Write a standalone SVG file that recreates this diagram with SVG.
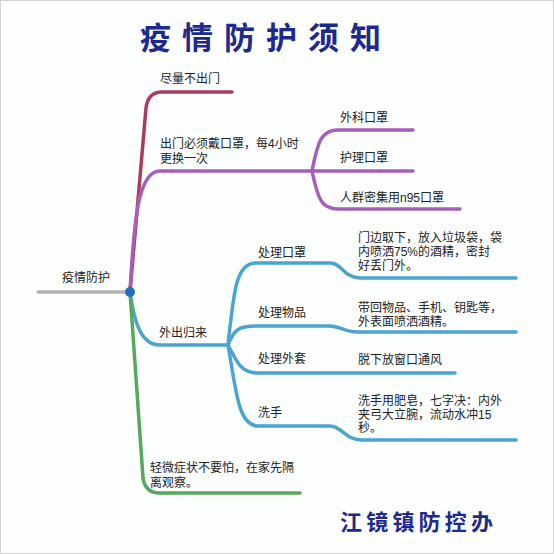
<svg xmlns="http://www.w3.org/2000/svg" width="554" height="554" viewBox="0 0 554 554">
<style>
.t{font-family:"Liberation Sans","Noto Sans CJK SC",sans-serif;font-size:12px;fill:#222;}
.h{font-family:"Liberation Sans","Noto Sans CJK SC",sans-serif;font-weight:bold;fill:#1d2a8c;}
.ln{fill:none;stroke-width:3.5;stroke-linecap:round;stroke-linejoin:round;}
.mr{stroke:#a83d63;}
.pu{stroke:#a65fb8;}
.bl{stroke:#4ba3cf;}
.gr{stroke:#55a85c;}
</style>
<rect x="0.5" y="0.5" width="553" height="553" fill="#fdfefe" stroke="#d4d4d4"/>
<text class="h" x="140" y="49" font-size="31" letter-spacing="11">疫情防护须知</text>
<g id="connectors">
<path class="ln" d="M38,292 L130,292" stroke="#b3b3b3"/>
<path class="ln mr" d="M130,292 L146,108 Q148,92 162,92 L232,92"/>
<path class="ln pu" d="M130,292 C134,220 138,171 160,171 L413,171"/>
<path class="ln pu" d="M312,171 C318,140 322,130 338,130 L413,130"/>
<path class="ln pu" d="M312,171 C318,200 322,209 338,209 L460,209"/>
<path class="ln bl" d="M130,292 C134,320 140,345 160,345 L228,345"/>
<path class="ln bl" d="M228,345 C234,290 236,263 256,263 L330,263 C342,263 344,278 360,278 L516,278"/>
<path class="ln bl" d="M228,345 C234,330 238,326 256,326 L330,326 C340,326 344,332 358,332 L516,332"/>
<path class="ln bl" d="M228,345 C236,360 240,373 258,373 L455,373"/>
<path class="ln bl" d="M228,345 C236,390 238,426 258,426 L330,426 C342,426 345,440 362,440 L516,440"/>
<path class="ln gr" d="M130,292 L143,478 Q145,493 160,493 L300,493"/>
</g>
<circle cx="130" cy="292" r="5" fill="#1f6fbf"/>
<g id="root"><text class="t" x="62" y="281.5">疫情防护</text></g>
<g id="n1"><text class="t" x="160" y="82.5">尽量不出门</text></g>
<g id="n2"><text class="t" x="160" y="147.5">出门必须戴口罩，每4小时</text><text class="t" x="160" y="162.5">更换一次</text></g>
<g id="n2a"><text class="t" x="340" y="121.5">外科口罩</text></g>
<g id="n2b"><text class="t" x="340" y="161.5">护理口罩</text></g>
<g id="n2c"><text class="t" x="340" y="201.5">人群密集用n95口罩</text></g>
<g id="n3"><text class="t" x="159" y="336.5">外出归来</text></g>
<g id="n3a"><text class="t" x="258" y="256.5">处理口罩</text></g>
<g id="n3a1"><text class="t" x="358" y="241.5">门边取下，放入垃圾袋，袋</text><text class="t" x="358" y="255.5">内喷洒75%的酒精，密封</text><text class="t" x="358" y="269.5">好丢门外。</text></g>
<g id="n3b"><text class="t" x="258" y="316.5">处理物品</text></g>
<g id="n3b1"><text class="t" x="358" y="311.5">带回物品、手机、钥匙等，</text><text class="t" x="358" y="325.5">外表面喷洒酒精。</text></g>
<g id="n3c"><text class="t" x="258" y="362.5">处理外套</text></g>
<g id="n3c1"><text class="t" x="358" y="363.5">脱下放窗口通风</text></g>
<g id="n3d"><text class="t" x="258" y="416.5">洗手</text></g>
<g id="n3d1"><text class="t" x="358" y="405">洗手用肥皂，七字决：内外</text><text class="t" x="358" y="418.5">夹弓大立腕，流动水冲15</text><text class="t" x="358" y="432">秒。</text></g>
<g id="n4"><text class="t" x="150" y="471.5">轻微症状不要怕，在家先隔</text><text class="t" x="150" y="486.5">离观察。</text></g>
<text class="h" x="340" y="530" font-size="22" letter-spacing="4.2">江镜镇防控办</text>
</svg>
